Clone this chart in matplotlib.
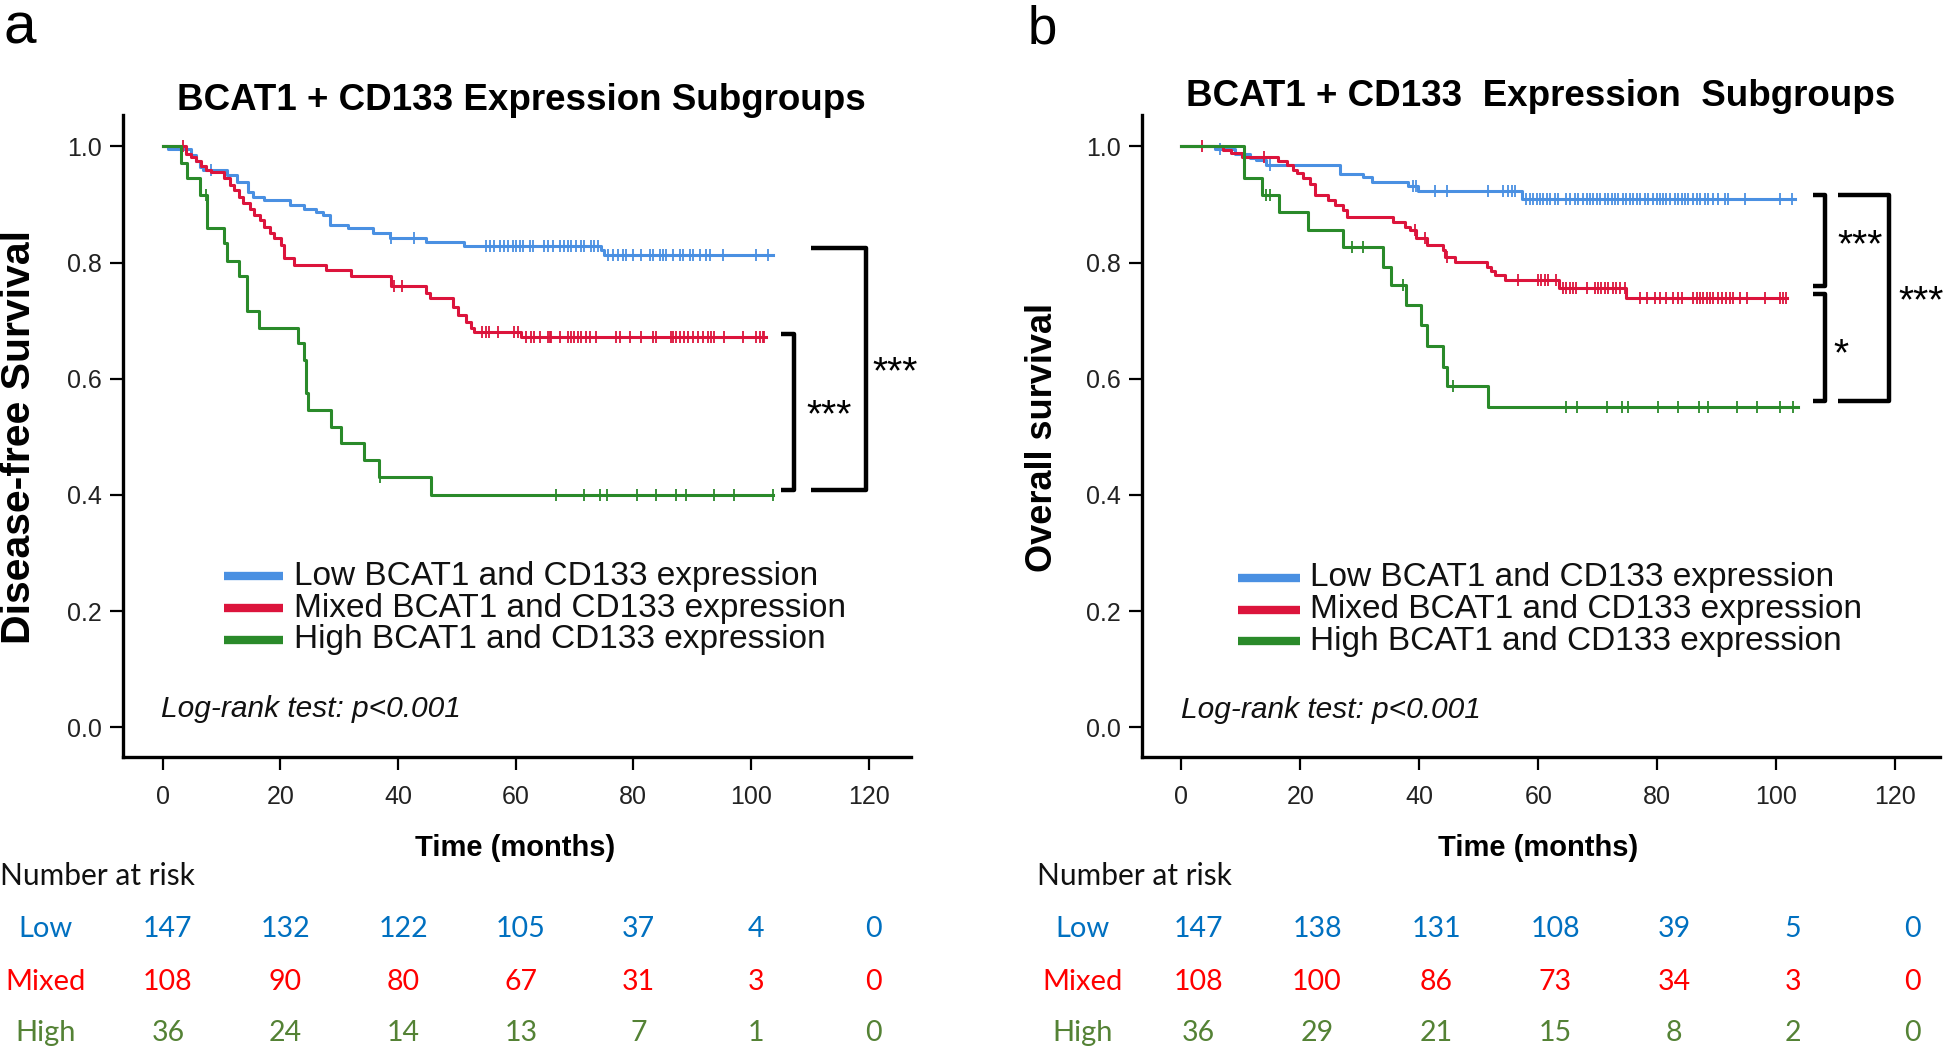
#
# Kaplan-Meier curves for BCAT1 + CD133 expression subgroups (panels a and b)
#
import matplotlib
matplotlib.use('Agg')
import matplotlib.pyplot as plt
import matplotlib.transforms as mtransforms
import numpy as np

plt.rcParams['font.family'] = ['Liberation Sans', 'DejaVu Sans']

# Curve colours and risk table colours
BLUE = '#4a90e2'
RED = '#dc143c'
GREEN = '#2a8a2a'
RISK_BLUE = '#0070c0'
RISK_RED = '#ff0000'
RISK_GREEN = '#548235'

# ---------------- panel a: disease-free survival ----------------
a_low_t = [0, 0.9, 4.9, 5.7, 6.3, 6.9, 10.9, 12.6, 14.5, 15.4, 17.3, 21.6, 24.1, 26.1,
           27.3, 28.4, 31.5, 35.8, 38.6, 44.8, 51.3, 74.6, 75.0]
a_low_s = [1.0, 0.995, 0.985, 0.975, 0.965, 0.959, 0.951, 0.939, 0.922, 0.913, 0.908, 0.899,
           0.893, 0.887, 0.882, 0.865, 0.859, 0.85, 0.843, 0.836, 0.829, 0.821, 0.813]
a_low_end = 103.7
a_low_cens = [8.3, 38.9, 42.8, 55.0, 55.6, 56.4, 57.3, 58.1, 58.7, 59.5, 60.1, 60.7, 61.2,
              62.4, 63.0, 64.9, 65.5, 66.3, 67.5, 68.3, 68.9, 69.5, 70.3, 71.2, 71.7, 72.9,
              73.4, 74.0, 75.7, 76.5, 77.4, 78.2, 78.8, 79.9, 81.3, 82.8, 83.3, 84.5, 85.0,
              85.6, 86.7, 87.9, 88.4, 89.6, 90.1, 91.3, 92.4, 93.0, 95.2, 100.9, 102.9]

a_mix_t = [0, 3.9, 4.9, 5.7, 6.6, 7.3, 8.3, 10.4, 11.4, 12.2, 13.0, 13.7, 14.8, 15.6, 16.5,
           17.3, 18.2, 19.0, 20.2, 20.6, 22.4, 27.8, 32.1, 38.9, 44.7, 45.4, 49.3, 50.2,
           51.6, 52.5, 53.0, 60.9]
a_mix_s = [1.0, 0.987, 0.981, 0.974, 0.967, 0.96, 0.955, 0.945, 0.933, 0.925, 0.913, 0.902,
           0.893, 0.882, 0.873, 0.862, 0.85, 0.842, 0.83, 0.807, 0.796, 0.787, 0.777, 0.76,
           0.748, 0.739, 0.724, 0.71, 0.698, 0.687, 0.681, 0.671]
a_mix_end = 102.6
a_mix_cens = [3.4, 39.4, 40.7, 54.3, 54.9, 55.5, 57.0, 59.8, 60.4, 61.8, 62.7, 63.2, 64.1,
              65.5, 65.8, 66.1, 67.5, 68.9, 69.5, 70.0, 70.6, 71.2, 72.0, 72.6, 73.7, 77.1,
              77.7, 79.4, 81.4, 83.3, 83.9, 86.5, 86.7, 87.3, 87.9, 88.7, 89.3, 90.1, 91.0,
              91.8, 92.7, 93.2, 93.8, 95.5, 98.6, 100.9, 101.5, 102.0, 102.3]

a_high_t = [0, 3.2, 4.1, 6.3, 7.5, 10.4, 10.9, 13.0, 14.3, 16.4, 23.0, 24.0, 24.3, 24.7,
            28.7, 30.4, 34.3, 36.8, 45.7]
a_high_s = [1.0, 0.972, 0.945, 0.917, 0.86, 0.833, 0.803, 0.776, 0.717, 0.688, 0.661, 0.632,
            0.575, 0.546, 0.517, 0.489, 0.46, 0.43, 0.40]
a_high_end = 103.7
a_high_cens = [7.4, 36.9, 66.8, 71.7, 74.3, 75.5, 80.6, 83.8, 87.3, 89.0, 93.8, 97.2, 103.7]

# ---------------- panel b: overall survival ----------------
b_low_t = [0, 5.6, 9.0, 11.5, 12.5, 14.3, 26.6, 30.6, 32.0, 38.1, 39.8, 57.3]
b_low_s = [1.0, 0.995, 0.987, 0.98, 0.976, 0.968, 0.953, 0.948, 0.939, 0.931, 0.923, 0.909]
b_low_end = 103.1
b_low_cens = [6.5, 14.9, 39.0, 39.4, 42.7, 44.7, 51.6, 54.1, 54.9, 55.5, 56.0, 58.0, 58.6,
              59.1, 59.7, 60.3, 60.8, 61.4, 61.9, 62.8, 63.3, 64.7, 65.3, 66.1, 66.7, 67.5,
              68.1, 68.7, 69.2, 69.8, 70.3, 71.2, 71.7, 72.3, 72.9, 73.4, 74.3, 74.8, 75.4,
              75.9, 76.5, 77.1, 77.9, 78.5, 79.3, 79.9, 80.4, 81.0, 81.5, 82.1, 82.9, 83.5,
              84.1, 84.6, 85.2, 86.0, 86.6, 87.1, 88.0, 88.5, 89.4, 90.2, 91.3, 91.9, 94.7,
              100.6, 102.6]

b_mix_t = [0, 7.0, 8.4, 10.1, 16.3, 17.7, 18.8, 19.4, 20.5, 21.6, 22.4, 24.7, 25.8, 27.2,
           27.8, 35.6, 37.6, 38.4, 39.4, 41.2, 44.0, 44.3, 46.0, 51.3, 52.1, 52.7, 54.4,
           63.5, 74.7]
b_mix_s = [1.0, 0.993, 0.988, 0.982, 0.974, 0.968, 0.96, 0.954, 0.945, 0.936, 0.916, 0.908,
           0.899, 0.89, 0.879, 0.87, 0.862, 0.856, 0.842, 0.83, 0.821, 0.81, 0.801, 0.793,
           0.786, 0.778, 0.770, 0.756, 0.739]
b_mix_end = 101.8
b_mix_cens = [3.4, 13.8, 39.2, 40.9, 44.6, 56.6, 60.0, 60.5, 61.1, 61.7, 63.0, 64.2, 64.7,
              65.3, 65.9, 66.4, 68.1, 69.5, 70.1, 70.6, 71.2, 71.7, 72.6, 73.1, 73.7, 74.5,
              77.1, 78.2, 79.6, 80.4, 81.5, 82.7, 83.5, 84.1, 86.0, 86.6, 87.1, 87.7, 88.3,
              88.8, 89.4, 90.2, 90.8, 91.6, 92.2, 92.7, 93.9, 95.0, 98.1, 100.6, 101.2, 101.7]

b_high_t = [0, 10.5, 13.5, 16.4, 21.2, 27.1, 33.9, 35.3, 37.8, 40.2, 41.3, 44.0, 44.6, 51.6]
b_high_s = [1.0, 0.945, 0.916, 0.887, 0.856, 0.826, 0.793, 0.761, 0.727, 0.692, 0.656, 0.621,
            0.587, 0.552]
b_high_end = 103.7
b_high_cens = [14.3, 14.9, 28.6, 30.5, 37.3, 45.6, 64.7, 66.5, 71.5, 74.1, 75.1, 80.1, 83.5,
               87.0, 88.5, 93.4, 96.7, 100.6, 102.8]

# Number at risk tables
risk_times = [0, 20, 40, 60, 80, 100, 120]
risk_groups = ['Low', 'Mixed', 'High']
a_risk_low = [147, 132, 122, 105, 37, 4, 0]
a_risk_mix = [108, 90, 80, 67, 31, 3, 0]
a_risk_high = [36, 24, 14, 13, 7, 1, 0]
b_risk_low = [147, 138, 131, 108, 39, 5, 0]
b_risk_mix = [108, 100, 86, 73, 34, 3, 0]
b_risk_high = [36, 29, 21, 15, 8, 2, 0]

legend_labels = ['Low BCAT1 and CD133 expression',
                 'Mixed BCAT1 and CD133 expression',
                 'High BCAT1 and CD133 expression']


# Draws one KM curve with its censor marks
def km_curve(ax, t, s, t_end, cens, color):
    tt = np.array(t + [t_end])
    ss = np.array(s + [s[-1]])
    ax.step(tt, ss, where='post', color=color, lw=2.2)
    idx = np.searchsorted(np.array(t), np.array(cens), side='right') - 1
    ax.plot(cens, np.array(s)[idx], ls='none', marker='|', ms=9, mew=1.3, color=color)


# Draws a significance bracket ] in data coords
def bracket(ax, x0, x1, ytop, ybot):
    ax.plot([x0, x1, x1, x0], [ytop, ytop, ybot, ybot], color='black', lw=3.2,
            clip_on=False, solid_joinstyle='round', solid_capstyle='butt')


def style_axes(ax, xlim):
    ax.set_xlim(*xlim)
    ax.set_ylim(-0.0513, 1.054)
    ax.spines['top'].set_visible(False)
    ax.spines['right'].set_visible(False)
    ax.spines['left'].set_linewidth(2.4)
    ax.spines['bottom'].set_linewidth(2.4)
    ax.set_xticks(risk_times)
    ax.set_yticks([0.0, 0.2, 0.4, 0.6, 0.8, 1.0])
    ax.set_yticklabels(['0.0', '0.2', '0.4', '0.6', '0.8', '1.0'])
    ax.tick_params(axis='both', direction='out', length=9.5, width=1.6,
                   labelsize=18, labelcolor='#222222')
    ax.tick_params(axis='y', pad=6)
    ax.tick_params(axis='x', pad=11)


def legend_and_test(ax, xline, xtext, ys):
    for y, c, lab in zip(ys, [BLUE, RED, GREEN], legend_labels):
        ax.plot(xline, [y, y], color=c, lw=6, solid_capstyle='butt')
        ax.text(xtext, y, lab, fontsize=24, va='center', ha='left', color='#111111')


def risk_table(fig, ax, xoff, label_x, title_x, rows):
    trans = mtransforms.blended_transform_factory(ax.transData, fig.transFigure)
    fig.text(title_x, 0.1675, 'Number at risk', fontsize=21.5, family='Lato',
             va='center', ha='left', color='#111111')
    row_y = [0.1170, 0.0665, 0.0180]
    cols = [RISK_BLUE, RISK_RED, RISK_GREEN]
    for grp, vals, y, c in zip(risk_groups, rows, row_y, cols):
        fig.text(label_x, y, grp, fontsize=21, family='Lato', va='center', ha='center', color=c)
        for t, v in zip(risk_times, vals):
            ax.text(t + xoff, y, str(v), transform=trans, fontsize=20.5, family='Lato',
                    va='center', ha='center', color=c, clip_on=False)


fig = plt.figure(figsize=(19.46, 10.52), dpi=100)
ax_a = fig.add_axes([0.0632, 0.2804, 0.4049, 0.6103])
ax_b = fig.add_axes([0.5868, 0.2804, 0.4101, 0.6103])

# Panel a
km_curve(ax_a, a_low_t, a_low_s, a_low_end, a_low_cens, BLUE)
km_curve(ax_a, a_mix_t, a_mix_s, a_mix_end, a_mix_cens, RED)
km_curve(ax_a, a_high_t, a_high_s, a_high_end, a_high_cens, GREEN)
style_axes(ax_a, (-6.73, 127.2))
bracket(ax_a, 105.2, 107.4, 0.677, 0.408)
bracket(ax_a, 110.3, 119.6, 0.825, 0.408)
ax_a.text(113.3, 0.535, '***', fontsize=28, ha='center', va='center', clip_on=False)
ax_a.text(124.5, 0.610, '***', fontsize=28, ha='center', va='center', clip_on=False)
legend_and_test(ax_a, [10.4, 20.5], 22.3, [0.260, 0.205, 0.151])
ax_a.text(-0.3, 0.031, 'Log-rank test: p<0.001', fontsize=21.5, style='italic',
          va='center', ha='left', color='#111111')

# Panel b
km_curve(ax_b, b_low_t, b_low_s, b_low_end, b_low_cens, BLUE)
km_curve(ax_b, b_mix_t, b_mix_s, b_mix_end, b_mix_cens, RED)
km_curve(ax_b, b_high_t, b_high_s, b_high_end, b_high_cens, GREEN)
style_axes(ax_b, (-6.64, 127.5))
bracket(ax_b, 106.1, 108.2, 0.916, 0.760)
bracket(ax_b, 106.1, 108.2, 0.746, 0.562)
bracket(ax_b, 110.3, 119.0, 0.916, 0.562)
ax_b.text(114.0, 0.828, '***', fontsize=28, ha='center', va='center', clip_on=False)
ax_b.text(110.9, 0.641, '*', fontsize=28, ha='center', va='center', clip_on=False)
ax_b.text(124.3, 0.731, '***', fontsize=28, ha='center', va='center', clip_on=False)
legend_and_test(ax_b, [9.5, 19.9], 21.6, [0.257, 0.202, 0.148])
ax_b.text(0.0, 0.029, 'Log-rank test: p<0.001', fontsize=21.5, style='italic',
          va='center', ha='left', color='#111111')

# Titles, axis labels, panel letters
fig.text(0.2677, 0.9040, 'BCAT1 + CD133 Expression Subgroups', fontsize=26.5,
         fontweight='bold', ha='center', va='center')
fig.text(0.7919, 0.9078, 'BCAT1 + CD133  Expression  Subgroups', fontsize=26.5,
         fontweight='bold', ha='center', va='center')
fig.text(0.0098, 0.5846, 'Disease-free Survival', fontsize=29.5, fontweight='bold',
         rotation=90, ha='center', va='center')
fig.text(0.5355, 0.5846, 'Overall survival', fontsize=26, fontweight='bold',
         rotation=90, ha='center', va='center')
for ax in (ax_a, ax_b):
    tr = mtransforms.blended_transform_factory(ax.transData, fig.transFigure)
    ax.text(60, 0.1935, 'Time (months)', transform=tr, fontsize=21, fontweight='bold',
            ha='center', va='center')
fig.text(0.002, 0.959, 'a', fontsize=42, va='baseline', ha='left')
fig.text(0.528, 0.959, 'b', fontsize=38, va='baseline', ha='left')

# Number at risk
risk_table(fig, ax_a, 0.9, 0.0236, 0.0, [a_risk_low, a_risk_mix, a_risk_high])
risk_table(fig, ax_b, 2.8, 0.5565, 0.5329, [b_risk_low, b_risk_mix, b_risk_high])

fig.savefig('out.png', dpi=100)
